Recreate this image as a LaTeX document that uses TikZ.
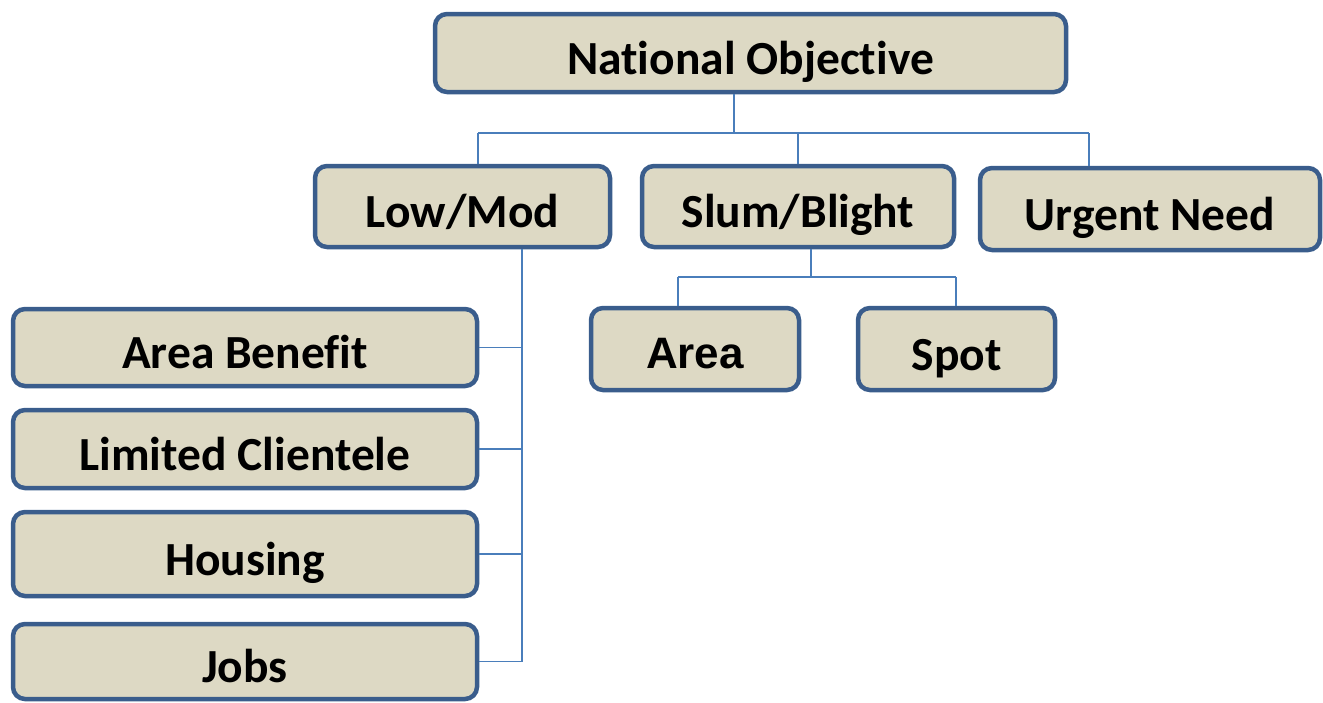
\documentclass[tikz,border=0pt]{standalone}
\usepackage{fontspec}
\setmainfont{Carlito}[Ligatures=NoCommon]
\newfontfamily\arialfont{Liberation Sans}
\definecolor{boxfill}{HTML}{DDD9C4}
\definecolor{boxline}{HTML}{3A5D8C}
\definecolor{connline}{HTML}{4A7EBB}
\begin{document}
\begin{tikzpicture}[x=1pt,y=-1pt,
  box/.style={draw=boxline, fill=boxfill, line width=4.5pt, rounded corners=12pt,
    inner sep=0pt, text height=42pt, text depth=0pt,
    font=\fontsize{47.5}{50}\selectfont\bfseries},
  conn/.style={draw=connline, line width=1.6pt}]
\useasboundingbox (0,0) rectangle (1323,702);
\node[box, minimum width=631pt, minimum height=78pt] (no) at (750.5,53) {National Objective};
\node[box, minimum width=295pt, minimum height=81pt] (lm) at (462.5,206.5) {Low/Mod};
\node[box, minimum width=312pt, minimum height=81pt] (sb) at (798,206.5) {Slum/Blight};
\node[box, minimum width=340pt, minimum height=82pt] (un) at (1150,209) {Urgent Need};
\node[box, minimum width=464pt, minimum height=77pt] (ab) at (245,347.5) {Area Benefit};
\node[box, minimum width=464pt, minimum height=78pt] (lc) at (245,449) {Limited Clientele};
\node[box, minimum width=464pt, minimum height=84pt] (ho) at (245,554) {Housing};
\node[box, minimum width=464pt, minimum height=75pt] (jo) at (245,661.5) {Jobs};
\node[box, minimum width=208pt, minimum height=82pt, text height=38pt] (ar) at (695,349)
  {\arialfont\bfseries\fontsize{44}{48}\selectfont Area};
\node[box, minimum width=197pt, minimum height=82pt] (sp) at (956.5,349) {Spot};
% top bus
\coordinate (b0) at (734,133);
\coordinate (bl) at (478,133);
\coordinate (br) at (1089,133);
\draw[conn] (b0 |- no.south) -- (b0);
\draw[conn] (bl) -- (br);
\draw[conn] (bl) -- (bl |- lm.north);
\draw[conn] (sb.north |- bl) -- (sb.north);
\draw[conn] (br) -- (br |- un.north);
% low/mod column
\coordinate (v) at (522,0);
\draw[conn] (v |- lm.south) -- (v |- jo.east);
\draw[conn] (ab.east) -- (ab.east -| v);
\draw[conn] (lc.east) -- (lc.east -| v);
\draw[conn] (ho.east) -- (ho.east -| v);
\draw[conn] (jo.east) -- (jo.east -| v);
% slum/blight bus
\coordinate (s0) at (811,277);
\coordinate (sl) at (678,277);
\coordinate (sr) at (956,277);
\draw[conn] (s0 |- sb.south) -- (s0);
\draw[conn] (sl) -- (sr);
\draw[conn] (sl) -- (sl |- ar.north);
\draw[conn] (sr) -- (sr |- sp.north);
\end{tikzpicture}
\end{document}
